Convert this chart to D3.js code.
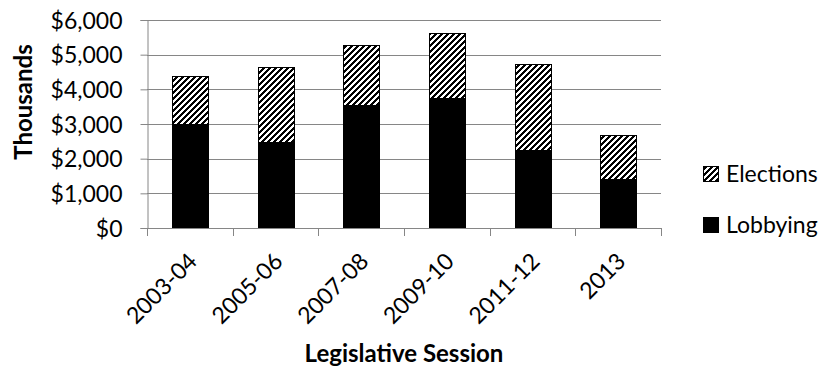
<!DOCTYPE html>
<html>
<head>
<meta charset="utf-8">
<script src="https://cdn.jsdelivr.net/npm/d3@7/dist/d3.min.js"></script>
<style>
  body { margin: 0; background: #fff; }
  text { font-family: Lato, "Open Sans", "Liberation Sans", sans-serif; fill: #000; }
</style>
</head>
<body>
<svg id="chart" width="825" height="368"></svg>
<script>
// Spending per legislative session, in thousands of dollars
const sessions = ["2003-04", "2005-06", "2007-08", "2009-10", "2011-12", "2013"];
const lobbying = [3010, 2470, 3550, 3760, 2260, 1420];
const elections = [1380, 2180, 1740, 1870, 2460, 1250];
const yTicks = [0, 1000, 2000, 3000, 4000, 5000, 6000];
const seriesNames = ["Lobbying", "Elections"];

const svg = d3.select("#chart");
const margin = { left: 147, right: 164, top: 20, bottom: 140 };
const W = 825, H = 368;
const x0 = margin.left, x1 = W - margin.right;
const y0 = H - margin.bottom, y1 = margin.top;

const x = d3.scaleBand().domain(sessions).range([x0, x1]).paddingInner(0.58).paddingOuter(0.29);
const xb = d3.scaleBand().domain(sessions).range([x0, x1]);
const y = d3.scaleLinear().domain([0, 6000]).range([y0, y1]);

// Pixel-aligned upward diagonal hatching for the Elections series
const tile = 6;
const defs = svg.append("defs");
const pat = defs.append("pattern")
  .attr("id", "hatch").attr("patternUnits", "userSpaceOnUse")
  .attr("width", tile).attr("height", tile);
pat.append("rect").attr("width", tile).attr("height", tile).attr("fill", "#fff");
const cells = [];
for (let py = 0; py < tile; py++)
  for (let px = 0; px < tile; px++)
    if ((px + py) % tile < 3) cells.push([px, py]);
pat.selectAll("rect.c").data(cells).join("rect").attr("class", "c")
  .attr("x", d => d[0]).attr("y", d => d[1]).attr("width", 1).attr("height", 1)
  .attr("fill", "#000").attr("shape-rendering", "crispEdges");

const grid = "#868686";
const tickFont = 23;
const titleFont = 24;

// Horizontal gridlines
svg.append("g").selectAll("line").data(yTicks.slice(1)).join("line")
  .attr("x1", x0).attr("x2", x1)
  .attr("y1", d => Math.round(y(d)) + 0.5).attr("y2", d => Math.round(y(d)) + 0.5)
  .attr("stroke", grid).attr("stroke-width", 1);

// Y axis
const yAxis = svg.append("g").attr("transform", `translate(${x0 + 0.5},0)`)
  .call(d3.axisLeft(y).tickValues(yTicks).tickSize(7).tickPadding(18)
    .tickFormat(d => "$" + d3.format(",")(d)));
yAxis.select(".domain").attr("stroke", grid);
yAxis.selectAll(".tick line").attr("stroke", grid);
yAxis.selectAll(".tick text").attr("font-size", tickFont).attr("dy", "0.36em");

// Stacked bars
const stack = d3.stack().keys(seriesNames)(sessions.map((s, i) => ({ s, Lobbying: lobbying[i], Elections: elections[i] })));
const fills = { Lobbying: "#000", Elections: "url(#hatch)" };
svg.append("g").selectAll("g").data(stack).join("g")
  .attr("fill", d => fills[d.key])
  .selectAll("rect").data(d => d).join("rect")
  .attr("x", d => Math.round(x(d.data.s)) + 0.5)
  .attr("width", Math.round(x.bandwidth()))
  .attr("y", d => Math.round(y(d[1])) + 0.5)
  .attr("height", d => Math.round(y(d[0])) - Math.round(y(d[1])))
  .attr("stroke", "#000").attr("stroke-width", 1);

// X axis with ticks between categories
const xg = svg.append("g");
xg.append("line").attr("x1", x0).attr("x2", x1)
  .attr("y1", Math.round(y0) + 0.5).attr("y2", Math.round(y0) + 0.5).attr("stroke", grid);
xg.selectAll("line.t").data(sessions.concat(["end"])).join("line").attr("class", "t")
  .attr("x1", (d, i) => Math.round(x0 + i * xb.step()) + 0.5)
  .attr("x2", (d, i) => Math.round(x0 + i * xb.step()) + 0.5)
  .attr("y1", Math.round(y0)).attr("y2", Math.round(y0) + 8).attr("stroke", grid);
xg.selectAll("text").data(sessions).join("text")
  .attr("transform", d => `translate(${xb(d) + xb.bandwidth() / 2 + 3},${y0 + 29}) rotate(-45)`)
  .attr("text-anchor", "end").attr("dy", "0.35em")
  .attr("font-size", tickFont).text(d => d);

// Axis titles
svg.append("text").attr("transform", `translate(32,${(y0 + y1) / 2 - 22}) rotate(-90)`)
  .attr("text-anchor", "middle").attr("font-weight", "bold").attr("font-size", titleFont)
  .text("Thousands");
svg.append("text").attr("x", (x0 + x1) / 2).attr("y", 362)
  .attr("text-anchor", "middle").attr("font-weight", "bold").attr("font-size", titleFont)
  .text("Legislative Session");

// Legend
const legend = svg.append("g").attr("transform", "translate(703,0)");
const items = [{ name: "Elections", fill: "url(#hatch)", y: 166 }, { name: "Lobbying", fill: "#000", y: 217 }];
items.forEach(it => {
  legend.append("rect").attr("x", 0.5).attr("y", it.y + 0.5).attr("width", 15).attr("height", 15)
    .attr("fill", it.fill).attr("stroke", "#000");
  legend.append("text").attr("x", 23).attr("y", it.y + 8).attr("dy", "0.36em")
    .attr("font-size", tickFont).text(it.name);
});
</script>
</body>
</html>
